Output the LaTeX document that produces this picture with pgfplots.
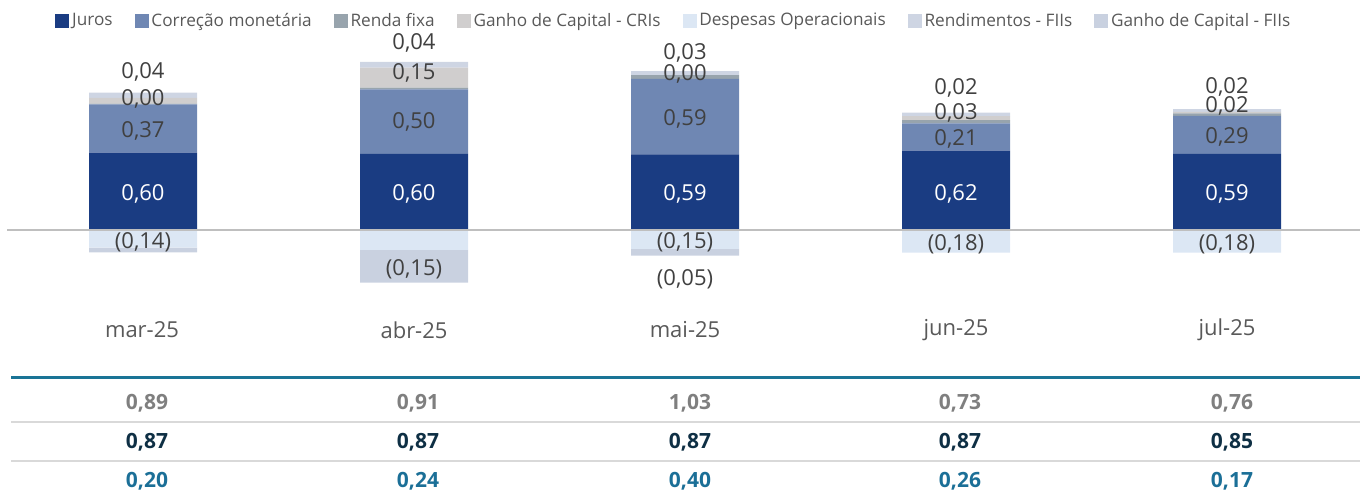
\documentclass[border=0pt]{standalone}
\usepackage{fontspec}
\setmainfont{Open Sans}
\usepackage{pgfplots}
\usepackage{pgfplotstable}
\pgfplotsset{compat=1.18}

\definecolor{juros}{HTML}{1A3C82}
\definecolor{correcao}{HTML}{6F87B3}
\definecolor{renda}{HTML}{98A4AD}
\definecolor{cris}{HTML}{D0CECE}
\definecolor{desp}{HTML}{DCE7F4}
\definecolor{rendf}{HTML}{CED5E3}
\definecolor{ganhof}{HTML}{C9D1E0}
\definecolor{labtxt}{HTML}{404040}
\definecolor{cattxt}{HTML}{595959}
\definecolor{zerol}{HTML}{BFBFBF}
\definecolor{teal}{HTML}{1A7496}
\definecolor{sepl}{HTML}{D9D9D9}
\definecolor{rowa}{HTML}{7F7F7F}
\definecolor{rowb}{HTML}{0E2F44}
\definecolor{rowc}{HTML}{1B6F97}

% positive stack (values)
\pgfplotstableread{
x juros correcao renda cris rend
143 0.600 0.375 0.005 0.045 0.040
414 0.590 0.500 0.015 0.155 0.045
685 0.587 0.585 0.030 0.000 0.030
956 0.615 0.212 0.026 0.031 0.026
1227 0.590 0.295 0.020 0.012 0.020
}\pos
% negative stack (values)
\pgfplotstableread{
x desp ganho
143 -0.137 -0.036
414 -0.155 -0.254
685 -0.147 -0.052
956 -0.176 0
1227 -0.176 0
}\negt
% data labels (pixel positions)
\pgfplotstableread{
x y lab
143 72 0,04
143 99 0,00
143 131 0,37
414 43 0,04
414 73 0,15
414 122 0,50
685 53 0,03
685 74 0,00
685 119 0,59
956 88 0,02
956 113 0,03
956 139 0,21
1227 87 0,02
1227 106 0,02
1227 137 0,29
143 242 (0,14)
414 269 (0,15)
685 242 (0,15)
685 279 (0,05)
956 244 (0,18)
1227 244 (0,18)
}\labdark
\pgfplotstableread{
x y lab
143 194 0,60
414 194 0,60
685 194 0,59
956 194 0,62
1227 194 0,59
}\labwhite
\pgfplotstableread{
x y lab
142 330 mar-25
414 330 abr-25
685 330 mai-25
956 330 jun-25
1227 330 jul-25
}\cats
\pgfplotstableread{
x y lab
147 403 0,89
418 403 0,91
690 403 1,03
960 403 0,73
1232 403 0,76
}\rowA
\pgfplotstableread{
x y lab
147 442 0,87
418 442 0,87
690 442 0,87
960 442 0,87
1232 442 0,85
}\rowB
\pgfplotstableread{
x y lab
147 481 0,20
418 481 0,24
690 481 0,40
960 481 0,26
1232 481 0,17
}\rowC

\pgfplotsset{
  base/.style={scale only axis, width=680bp, height=247.5bp, hide axis,
    clip=false, xmin=0, xmax=1360, at={(0,0)}, anchor=south west},
  valaxis/.style={base, ymin=-2.0559, ymax=1.7843, ybar stacked, bar width=108},
  lab/.style={draw=none, mark=none, nodes near coords, point meta=explicit symbolic,
    every node near coord/.append style={anchor=center, inner sep=0pt, #1}},
}

\begin{document}
\begin{tikzpicture}
\path[use as bounding box] (0,0) rectangle (680bp,247.5bp);
% positive bars
\begin{axis}[valaxis]
\addplot[fill=juros, draw=none] table[x=x,y=juros]{\pos};
\addplot[fill=correcao, draw=none] table[x=x,y=correcao]{\pos};
\addplot[fill=renda, draw=none] table[x=x,y=renda]{\pos};
\addplot[fill=cris, draw=none] table[x=x,y=cris]{\pos};
\addplot[fill=rendf, draw=none] table[x=x,y=rend]{\pos};
\end{axis}
% negative bars
\begin{axis}[valaxis]
\addplot[fill=desp, draw=none] table[x=x,y=desp]{\negt};
\addplot[fill=ganhof, draw=none] table[x=x,y=ganho]{\negt};
\end{axis}
% overlay: lines, labels, legend (pixel coordinates)
\begin{axis}[base, ymin=0, ymax=495, y dir=reverse, no markers,
  legend entries={Juros, Correção monetária, Renda fixa, Ganho de Capital - CRIs,
    Despesas Operacionais, Rendimentos - FIIs, Ganho de Capital - FIIs},
  legend style={at={(axis cs:55,21)}, anchor=west,
    draw=none, fill=none, legend columns=-1, inner sep=0pt,
    font=\fontsize{8.6bp}{10bp}\selectfont, text=cattxt,
    nodes={inner xsep=1.5bp, inner ysep=0.8bp},
    /tikz/every even column/.append style={column sep=9.5bp}},
  legend image code/.code={\fill[#1] (0bp,-3.25bp) rectangle (6.5bp,3.25bp);},
]
\addlegendimage{juros}
\addlegendimage{correcao}
\addlegendimage{renda}
\addlegendimage{cris}
\addlegendimage{desp}
\addlegendimage{rendf}
\addlegendimage{ganhof}

\addplot[draw=zerol, line width=1bp] coordinates {(7,230) (1360,230)};
\addplot[draw=teal, line width=1.5bp] coordinates {(11,377) (1360,377)};
\addplot[draw=sepl, line width=0.6bp] coordinates {(11,422) (1360,422)};
\addplot[draw=sepl, line width=0.6bp] coordinates {(11,461) (1360,461)};

\addplot[lab={font=\fontsize{11bp}{13bp}\selectfont, text=labtxt}] table[x=x,y=y,meta=lab]{\labdark};
\addplot[lab={font=\fontsize{11bp}{13bp}\selectfont, text=white}] table[x=x,y=y,meta=lab]{\labwhite};
\addplot[lab={font=\fontsize{11bp}{13bp}\selectfont, text=cattxt}] table[x=x,y=y,meta=lab]{\cats};
\addplot[lab={font=\fontsize{10.5bp}{13bp}\selectfont\bfseries, text=rowa}] table[x=x,y=y,meta=lab]{\rowA};
\addplot[lab={font=\fontsize{10.5bp}{13bp}\selectfont\bfseries, text=rowb}] table[x=x,y=y,meta=lab]{\rowB};
\addplot[lab={font=\fontsize{10.5bp}{13bp}\selectfont\bfseries, text=rowc}] table[x=x,y=y,meta=lab]{\rowC};
\end{axis}
\end{tikzpicture}
\end{document}
